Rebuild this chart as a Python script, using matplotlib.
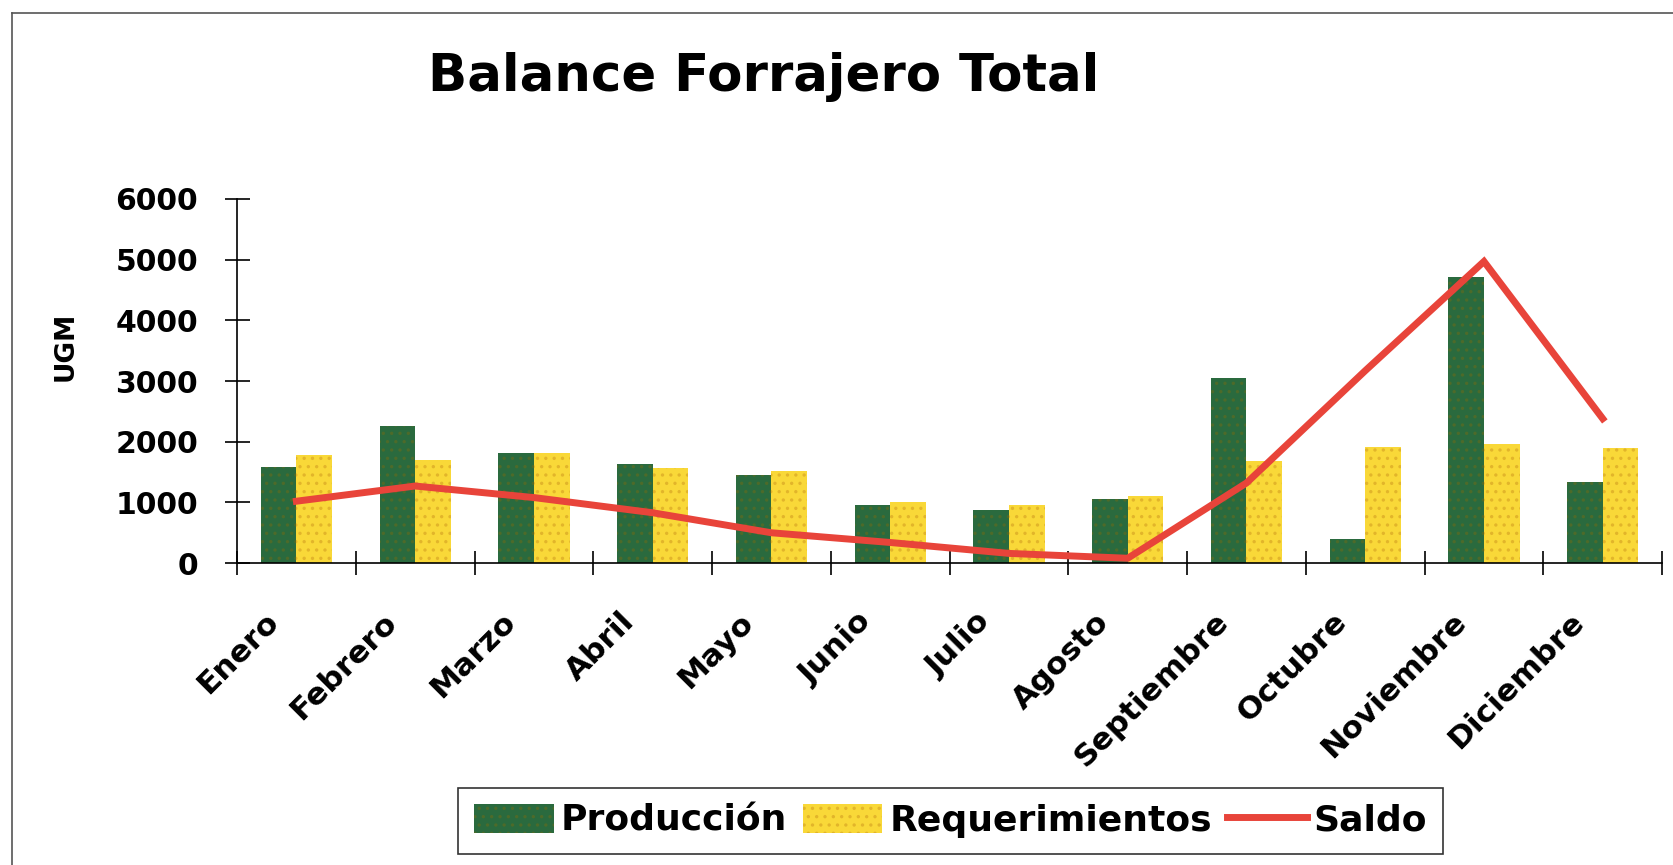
import matplotlib
matplotlib.use("Agg")
import matplotlib.pyplot as plt
import matplotlib.transforms as mtransforms
import numpy as np
from matplotlib.lines import Line2D
from matplotlib.patches import Patch

months = ["Enero", "Febrero", "Marzo", "Abril", "Mayo", "Junio", "Julio",
          "Agosto", "Septiembre", "Octubre", "Noviembre", "Diciembre"]
produccion = [1580, 2260, 1820, 1640, 1450, 950, 880, 1050, 3050, 390, 4720, 1330]
requerimientos = [1780, 1700, 1820, 1570, 1520, 1010, 960, 1100, 1690, 1920, 1960, 1890]
saldo = [1020, 1270, 1080, 830, 500, 340, 160, 80, 1320, 3170, 4970, 2380]
yticks = [0, 1000, 2000, 3000, 4000, 5000, 6000]

plt.rcParams['font.family'] = ['DejaVu Sans']
plt.rcParams['hatch.linewidth'] = 1.2

GREEN = "#2a6a3e"
YELLOW = "#f9d838"
RED = "#e8443a"

fig = plt.figure(figsize=(16.74, 8.65), dpi=100)
fig.patch.set_facecolor("white")
ax = fig.add_axes([0.1416, 0.349, 0.8513, 0.421])

x = np.arange(len(months))
w = 0.30
ax.bar(x - w / 2, produccion, width=w, color=GREEN, edgecolor="#4d6a2a",
       linewidth=0, hatch="..", zorder=2)
ax.bar(x + w / 2, requerimientos, width=w, color=YELLOW, edgecolor="#e2b52a",
       linewidth=0, hatch="..", zorder=2)
ax.plot(x, saldo, color=RED, linewidth=5, solid_joinstyle="miter", zorder=3)

ax.set_xlim(-0.5, 11.5)
ax.set_ylim(0, 6000)
ax.set_yticks(yticks)
ax.set_yticklabels([str(v) for v in yticks], fontsize=21.5, fontweight="bold")
ax.set_xticks(np.arange(-0.5, 12, 1.0))
ax.set_xticklabels([])
ax.set_xticks(x, minor=True)
ax.set_xticklabels(months, minor=True, rotation=45, ha="right",
                   rotation_mode="anchor", fontsize=22.5, fontweight="bold")
ax.tick_params(axis="x", which="minor", length=0, pad=8)
ax.tick_params(axis="x", which="major", direction="inout", length=17, width=1.2)
ax.tick_params(axis="y", direction="inout", length=18, width=1.2, pad=19)

offset = mtransforms.ScaledTranslation(-0.33, -0.33, fig.dpi_scale_trans)
for lab in ax.get_xticklabels(minor=True):
    lab.set_transform(lab.get_transform() + offset)

for s in ["top", "right"]:
    ax.spines[s].set_visible(False)
for s in ["left", "bottom"]:
    ax.spines[s].set_linewidth(1.2)
ax.set_facecolor("none")

fig.text(0.0394, 0.600, "UGM", rotation=90, ha="center", va="center",
         fontsize=19, fontweight="bold")

fig.text(0.456, 0.895, "Balance Forrajero Total", ha="center", va="baseline",
         fontsize=37, fontweight="bold")

handles = [Patch(facecolor=GREEN, edgecolor="#4d6a2a", hatch="..", linewidth=0),
           Patch(facecolor=YELLOW, edgecolor="#e2b52a", hatch="..", linewidth=0),
           Line2D([0], [0], color=RED, linewidth=5)]
leg = fig.legend(handles, ["Producción", "Requerimientos", "Saldo"],
                 loc="center", bbox_to_anchor=(0.568, 0.051), ncol=3,
                 prop={"weight": "bold", "size": 26},
                 frameon=True, fancybox=False, edgecolor="black",
                 handlelength=2.2, handleheight=0.85, handletextpad=0.2,
                 columnspacing=0.42, borderpad=0.45, borderaxespad=0)
leg.get_frame().set_linewidth(1.2)

# outer border (left and top edges of the framed chart)
fig.add_artist(Line2D([0.0072, 0.0072], [0.0, 0.985], color="#555555", linewidth=1.2,
                      transform=fig.transFigure))
fig.add_artist(Line2D([0.0072, 1.0], [0.985, 0.985], color="#555555", linewidth=1.2,
                      transform=fig.transFigure))

fig.savefig("out.png", dpi=100, facecolor="white")
